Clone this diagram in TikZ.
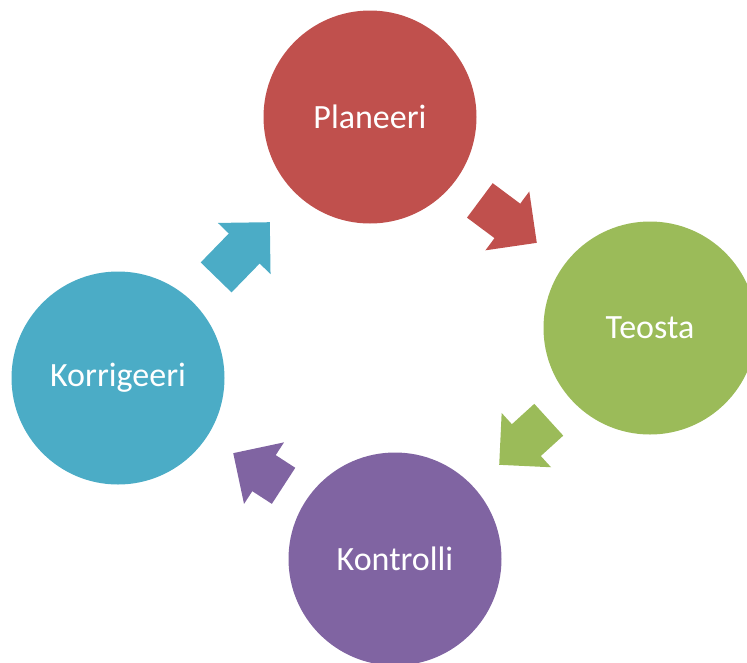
\documentclass[tikz,border=0pt]{standalone}
\usepackage{fontspec}
\setmainfont{Carlito}
\usetikzlibrary{shapes.arrows}
\definecolor{planRed}{RGB}{192,80,77}
\definecolor{teostaGreen}{RGB}{155,187,89}
\definecolor{kontrolliPurple}{RGB}{128,100,162}
\definecolor{korrigeeriBlue}{RGB}{75,172,198}

\begin{document}
\begin{tikzpicture}[
  x=1pt, y=-1pt,
  phase/.style={circle, minimum size=213pt, inner sep=0pt, text=white,
    font=\fontsize{34}{40}\selectfont},
  turn/.style={single arrow, anchor=tip, inner xsep=0pt, inner ysep=21.3pt,
    single arrow head extend=15.2pt, single arrow tip angle=90}
]
\useasboundingbox (0,0) rectangle (747,662);

% The four phases of the cycle.
\node[phase, fill=planRed] (plan) at (370,117) {Planeeri};
\node[phase, fill=teostaGreen] (teosta) at (650,328) {Teosta};
\node[phase, fill=kontrolliPurple] (kontrolli) at (395,559) {Kontrolli};
\node[phase, fill=korrigeeriBlue] (korrigeeri) at (118,378) {Korrigeeri};

% Block arrows between the phases, placed by their tips.
\node[turn, fill=planRed, minimum height=71pt, rotate=-36.7] (planToTeosta) at (537,243) {};
\node[turn, fill=teostaGreen, minimum height=67pt, rotate=222.3] (teostaToKontrolli) at (499,465) {};
\node[turn, fill=kontrolliPurple, minimum height=60pt, rotate=147] (kontrolliToKorrigeeri) at (233,453) {};
\node[turn, fill=korrigeeriBlue, minimum height=77pt, rotate=45.8] (korrigeeriToPlan) at (270,222) {};

\end{tikzpicture}
\end{document}
